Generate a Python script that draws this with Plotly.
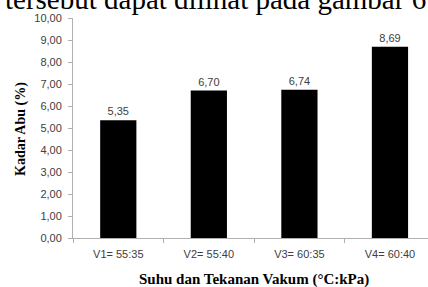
import plotly.graph_objects as go

categories = ["V1= 55:35", "V2= 55:40", "V3= 60:35", "V4= 60:40"]
kadar_abu = [5.35, 6.70, 6.74, 8.69]
y_ticks = [0, 1, 2, 3, 4, 5, 6, 7, 8, 9, 10]

L, T, B = 73, 18, 49
PW, PH = 428 - L, 287 - T - B

fig = go.Figure()
fig.add_trace(go.Bar(
    x=categories, y=kadar_abu, width=0.4,
    marker=dict(color="black", line=dict(width=0)),
    text=[f"{v:.2f}".replace(".", ",") for v in kadar_abu],
    textposition="outside", cliponaxis=False,
    textfont=dict(family="Liberation Sans", size=11, color="#404040"),
))

fig.update_layout(
    width=428, height=287,
    margin=dict(l=L, r=0, t=T, b=B),
    paper_bgcolor="white", plot_bgcolor="white",
    separators=",.",
    showlegend=False,
    xaxis=dict(
        range=[-0.5, 3.42], showline=True, linecolor="#b0b0b0", linewidth=1,
        ticks="outside", tickson="boundaries", ticklen=4, tickcolor="#b0b0b0",
        ticklabelstandoff=6,
        tickfont=dict(family="Liberation Sans", size=11, color="#404040"),
        automargin=False,
    ),
    yaxis=dict(
        range=[0, 10], tickvals=y_ticks, tickformat=".2f",
        showline=True, linecolor="#b0b0b0", linewidth=1, showgrid=False,
        zeroline=False,
        ticks="outside", ticklen=4, tickcolor="#b0b0b0", ticklabelstandoff=4,
        tickfont=dict(family="Liberation Sans", size=11, color="#404040"),
        automargin=False,
    ),
)

# axis titles
fig.add_annotation(
    text="<b>Suhu dan Tekanan Vakum (°C:kPa)</b>", xref="paper", yref="paper",
    x=(254 - L) / PW, y=-(279 - T - PH) / PH, xanchor="center", yanchor="middle",
    showarrow=False, font=dict(family="Liberation Serif", size=15, color="black"),
)
fig.add_annotation(
    text="<b>Kadar Abu (%)</b>", xref="paper", yref="paper", textangle=-90,
    x=(21 - L) / PW, y=1 - (129 - T) / PH, xanchor="center", yanchor="middle",
    showarrow=False, font=dict(family="Liberation Serif", size=14, color="black"),
)

fig.add_annotation(
    text="tersebut dapat dilihat pada gambar 6", xref="paper", yref="paper",
    x=(3 - L) / PW, y=1.0 + 1 / PH, xanchor="left", yanchor="bottom", showarrow=False,
    font=dict(family="Liberation Serif", size=29, color="black"),
)

fig.write_html("out.html", config={"displayModeBar": False},
               post_script="document.body.style.margin='0';")
